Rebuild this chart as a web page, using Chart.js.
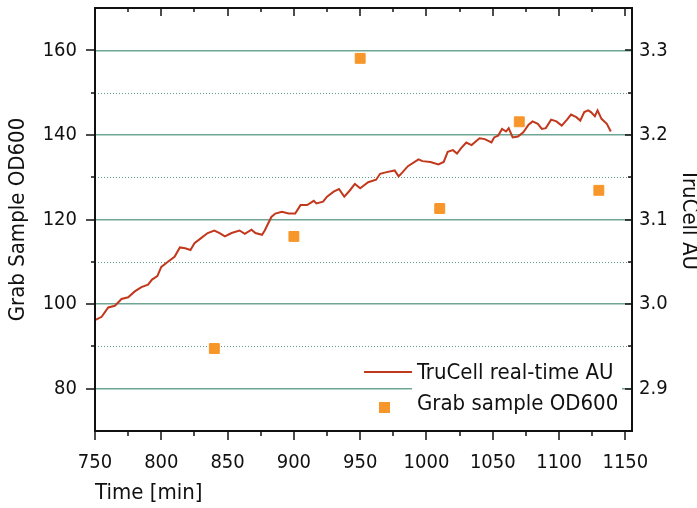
<!DOCTYPE html>
<html>
<head>
<meta charset="utf-8">
<script src="https://cdn.jsdelivr.net/npm/chart.js@4.4.0/dist/chart.umd.min.js"></script>
<style>
  html, body { margin: 0; padding: 0; background: #fff; }
</style>
</head>
<body>
<canvas id="chart" width="697" height="508"></canvas>
<script>
"use strict";

// TruCell real-time trace (right axis, AU)
const trucellTime = [750, 755, 760, 765, 770, 775, 780, 785, 790, 793, 797, 800, 805, 810, 814, 818, 822, 825, 830, 835,
  840, 844, 848, 853, 859, 863, 868, 871, 876, 878, 883, 886, 891, 896, 901, 905, 910, 915, 917, 922,
  925, 930, 934, 938, 942, 946, 950, 956, 962, 965, 970, 976, 979, 982, 986, 994, 997, 1003, 1009, 1013,
  1016, 1020, 1023, 1026, 1030, 1034, 1040, 1044, 1049, 1051, 1054, 1057, 1060, 1062, 1065, 1069, 1073, 1077, 1080, 1084,
  1087, 1090, 1094, 1098, 1102, 1106, 1109, 1113, 1116, 1119, 1122, 1124, 1127, 1129, 1132, 1136, 1139];
const trucellAU = [2.981, 2.985, 2.996, 2.998, 3.006, 3.008, 3.015, 3.020, 3.023, 3.029, 3.033, 3.044, 3.050, 3.056, 3.067, 3.066, 3.064, 3.072, 3.078, 3.084,
  3.087, 3.084, 3.080, 3.084, 3.087, 3.083, 3.088, 3.084, 3.082, 3.087, 3.103, 3.107, 3.109, 3.107, 3.107, 3.117, 3.117, 3.122, 3.119, 3.121,
  3.127, 3.133, 3.136, 3.127, 3.134, 3.142, 3.137, 3.144, 3.147, 3.154, 3.156, 3.158, 3.151, 3.156, 3.163, 3.171, 3.169, 3.168, 3.165, 3.168,
  3.180, 3.182, 3.178, 3.184, 3.191, 3.188, 3.196, 3.195, 3.191, 3.197, 3.199, 3.207, 3.204, 3.208, 3.197, 3.198, 3.203, 3.212, 3.216, 3.213,
  3.207, 3.208, 3.218, 3.216, 3.211, 3.218, 3.224, 3.221, 3.217, 3.227, 3.229, 3.227, 3.222, 3.229, 3.219, 3.213, 3.204];

// grab samples (left axis, OD600)
const grabTime = [840, 900, 950, 1010, 1070, 1130];
const grabOD = [89.5, 116, 158.1, 122.6, 143.1, 126.9];

// tick labels
const xTicks = [750, 800, 850, 900, 950, 1000, 1050, 1100, 1150];
const odTicks = [80, 100, 120, 140, 160];
const auTicks = [2.9, 3.0, 3.1, 3.2, 3.3];

const family = "'DejaVu Sans Condensed', 'DejaVu Sans', sans-serif";
const ink = '#111';
const lineColor = '#c1381c';
const squareColor = '#f7962a';

function mids(list) {
  const out = [];
  for (let i = 0; i < list.length - 1; i++) out.push((list[i] + list[i + 1]) / 2);
  return out;
}

// no extra room for half tick labels at the scale ends
function noPad(s) {
  s.paddingTop = 0;
  s.paddingBottom = 0;
  s.paddingLeft = 0;
  s.paddingRight = 0;
}

// frame, inward/outward tick marks and dotted minor grid
const framePlugin = {
  id: 'frame',
  beforeDatasetsDraw(chart) {
    const {ctx, chartArea: a, scales} = chart;
    ctx.save();
    ctx.strokeStyle = '#5e9c8a';
    ctx.lineWidth = 1;
    ctx.setLineDash([1, 2]);
    mids(odTicks).forEach(v => {
      const y = Math.round(scales.y.getPixelForValue(v)) + 0.5;
      ctx.beginPath();
      ctx.moveTo(a.left, y);
      ctx.lineTo(a.right, y);
      ctx.stroke();
    });
    ctx.restore();
  },
  afterDraw(chart) {
    const {ctx, chartArea: a, scales} = chart;
    ctx.save();
    ctx.strokeStyle = ink;
    ctx.lineWidth = 2;
    ctx.strokeRect(a.left, a.top, a.right - a.left, a.bottom - a.top);
    ctx.lineWidth = 1.5;
    const seg = (x1, y1, x2, y2) => {
      ctx.beginPath();
      ctx.moveTo(x1, y1);
      ctx.lineTo(x2, y2);
      ctx.stroke();
    };
    xTicks.forEach(v => {
      const x = Math.round(scales.x.getPixelForValue(v));
      seg(x, a.bottom, x, a.bottom + 9);
      seg(x, a.top, x, a.top + 8);
    });
    mids(xTicks).forEach(v => {
      const x = Math.round(scales.x.getPixelForValue(v));
      seg(x, a.bottom, x, a.bottom + 5);
      seg(x, a.top, x, a.top + 4);
    });
    odTicks.forEach(v => {
      const y = Math.round(scales.y.getPixelForValue(v));
      seg(a.left - 9, y, a.left, y);
    });
    mids(odTicks).forEach(v => {
      const y = Math.round(scales.y.getPixelForValue(v));
      seg(a.left - 4, y, a.left, y);
    });
    auTicks.forEach(v => {
      const y = Math.round(scales.y1.getPixelForValue(v));
      seg(a.right - 7, y, a.right, y);
    });
    mids(auTicks).forEach(v => {
      const y = Math.round(scales.y1.getPixelForValue(v));
      seg(a.right - 4, y, a.right, y);
    });
    ctx.restore();
  }
};

// legend box inside the plot, lower right
const legendPlugin = {
  id: 'innerLegend',
  afterDatasetsDraw(chart) {
    const {ctx, chartArea: a} = chart;
    const ds = chart.data.datasets;
    const textX = a.right - 215;
    const y1 = a.bottom - 59;
    const y2 = a.bottom - 25;
    ctx.save();
    ctx.fillStyle = '#fff';
    ctx.fillRect(textX - 5, y1 - 14, 210, 64);
    ctx.strokeStyle = ds[0].borderColor;
    ctx.lineWidth = 2;
    ctx.beginPath();
    ctx.moveTo(textX - 53, y1);
    ctx.lineTo(textX - 5, y1);
    ctx.stroke();
    ctx.fillStyle = ds[1].backgroundColor;
    ctx.fillRect(textX - 38, y2 - 4, 11, 11);
    ctx.fillStyle = ink;
    ctx.font = '22px ' + family;
    ctx.textBaseline = 'middle';
    ctx.fillText(ds[0].label, textX, y1 + 1);
    ctx.fillText(ds[1].label, textX, y2 - 2);
    ctx.restore();
  }
};

const tickFont = {family: family, size: 20};
const titleFont = {family: family, size: 22};

new Chart(document.getElementById('chart'), {
  type: 'scatter',
  data: {
    datasets: [
      {
        label: 'TruCell real-time AU',
        data: trucellTime.map((t, i) => ({x: t, y: trucellAU[i]})),
        yAxisID: 'y1',
        showLine: true,
        borderColor: lineColor,
        borderWidth: 2,
        pointRadius: 0,
        tension: 0
      },
      {
        label: 'Grab sample OD600',
        data: grabTime.map((t, i) => ({x: t, y: grabOD[i]})),
        yAxisID: 'y',
        pointStyle: 'rect',
        pointRadius: 7,
        backgroundColor: squareColor,
        borderColor: squareColor,
        borderWidth: 1
      }
    ]
  },
  options: {
    responsive: false,
    animation: false,
    layout: {padding: {top: 8}},
    plugins: {legend: {display: false}, tooltip: {enabled: false}},
    scales: {
      x: {
        type: 'linear',
        position: 'bottom',
        min: 750,
        max: 1155,
        afterBuildTicks: s => { s.ticks = xTicks.map(v => ({value: v})); },
        afterFit: s => { s.height = 77; noPad(s); },
        grid: {drawOnChartArea: false, drawTicks: false},
        border: {display: false},
        ticks: {color: ink, font: tickFont, padding: 20, maxRotation: 0, autoSkip: false, callback: v => String(v)},
        title: {display: true, text: 'Time [min]', align: 'start', color: ink, font: titleFont, padding: {top: 0, bottom: 2}}
      },
      y: {
        position: 'left',
        min: 70,
        max: 170,
        afterBuildTicks: s => { s.ticks = odTicks.map(v => ({value: v})); },
        afterFit: s => { s.width = 95; noPad(s); },
        grid: {drawTicks: false, color: '#6fa594', lineWidth: 1.5},
        border: {display: false},
        ticks: {color: ink, font: tickFont, padding: 18},
        title: {display: true, text: 'Grab Sample OD600', color: ink, font: titleFont, padding: {top: 5, bottom: 0}}
      },
      y1: {
        position: 'right',
        min: 2.85,
        max: 3.35,
        afterBuildTicks: s => { s.ticks = auTicks.map(v => ({value: v})); },
        afterFit: s => { s.width = 65; noPad(s); },
        grid: {drawOnChartArea: false, drawTicks: false},
        border: {display: false},
        ticks: {color: ink, font: tickFont, padding: 7, callback: v => v.toFixed(1)},
        title: {display: true, text: 'TruCell AU', color: ink, font: titleFont, padding: {top: -5, bottom: 0}}
      }
    }
  },
  plugins: [framePlugin, legendPlugin]
});
</script>
</body>
</html>
